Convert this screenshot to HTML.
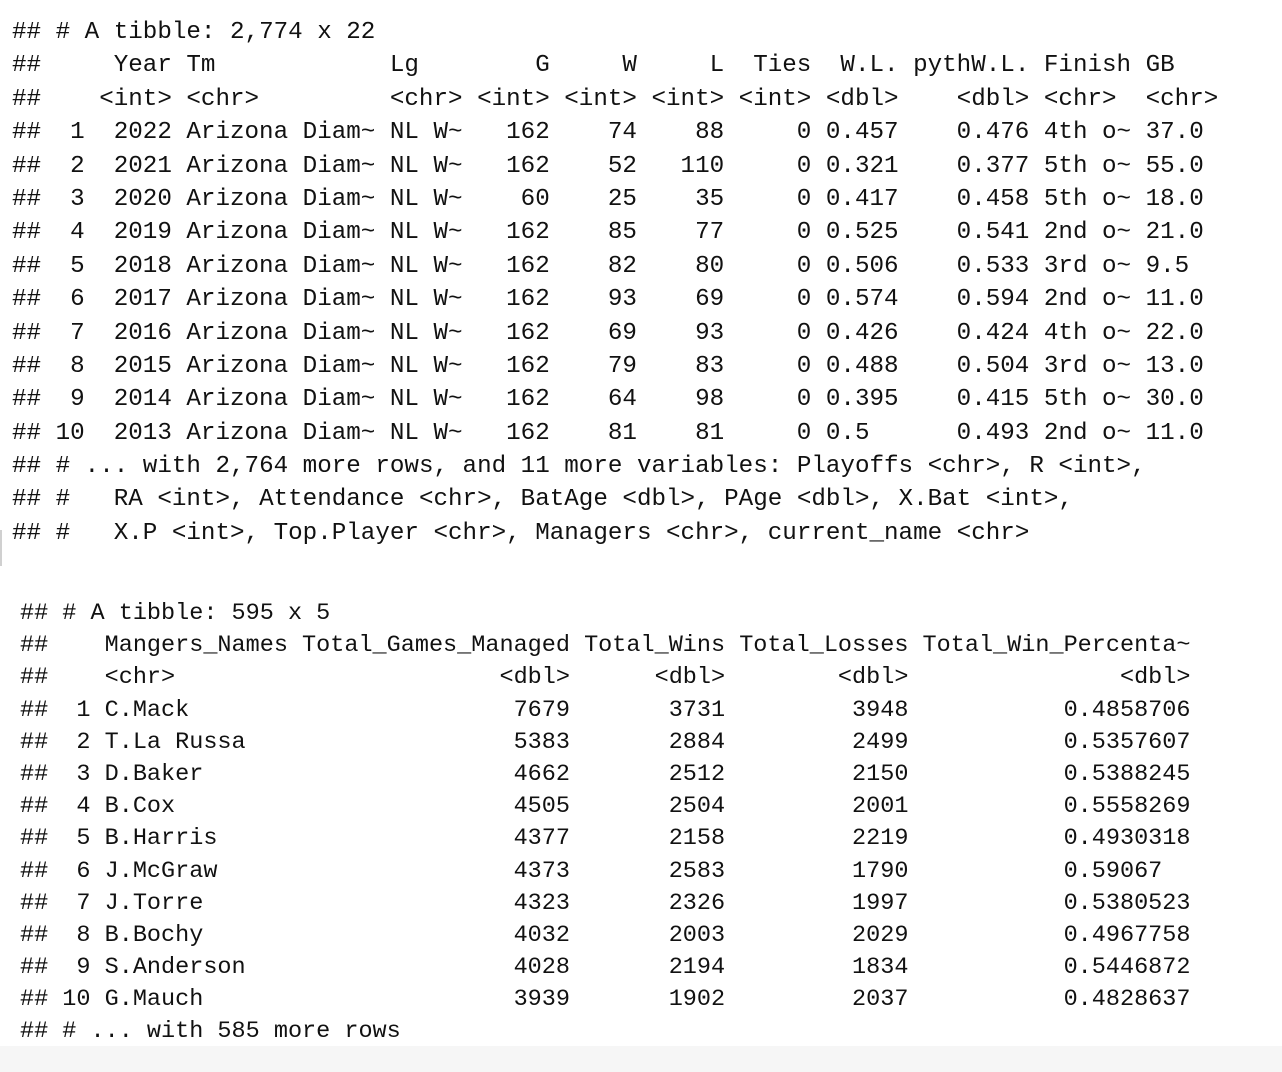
<!DOCTYPE html>
<html><head><meta charset="utf-8"><style>
html,body{margin:0;padding:0;background:#fff;width:1282px;height:1072px;overflow:hidden;position:relative}
.blk{position:absolute;font-family:"Liberation Mono",monospace;color:#111;font-weight:normal}
.b1{left:12px;top:16px;font-size:24.23px}
.b2{left:20px;top:598px;font-size:23.5px}
.ln{position:relative;height:33.4px;line-height:33.4px;white-space:pre}
.b2 .ln{height:32.2px;line-height:32.2px}
.ln span{position:absolute;top:0}
.r{transform:translateX(-100%)}
.cursor{position:absolute;left:0;top:530px;width:2px;height:36px;background:#d0d0d0}
.band{position:absolute;left:0;top:1046px;width:1282px;height:26px;background:#f6f6f6}
</style></head><body>
<div class="cursor"></div>
<div class="band"></div>
<div class="blk b1">
<div class="ln">## # A tibble: 2,774 x 22</div>
<div class="ln"><span style="left:0">##</span><span style="left:7ch">Year</span><span style="left:12ch">Tm</span><span style="left:26ch">Lg</span><span class="r" style="left:37ch">G</span><span class="r" style="left:43ch">W</span><span class="r" style="left:49ch">L</span><span class="r" style="left:55ch">Ties</span><span class="r" style="left:61ch">W.L.</span><span style="left:62ch">pythW.L.</span><span style="left:71ch">Finish</span><span style="left:78ch">GB</span></div>
<div class="ln"><span style="left:0">##</span><span style="left:6ch">&lt;int&gt;</span><span style="left:12ch">&lt;chr&gt;</span><span style="left:26ch">&lt;chr&gt;</span><span style="left:32ch">&lt;int&gt;</span><span style="left:38ch">&lt;int&gt;</span><span style="left:44ch">&lt;int&gt;</span><span style="left:50ch">&lt;int&gt;</span><span style="left:56ch">&lt;dbl&gt;</span><span style="left:65ch">&lt;dbl&gt;</span><span style="left:71ch">&lt;chr&gt;</span><span style="left:78ch">&lt;chr&gt;</span></div>
<div class="ln"><span style="left:0">##</span><span class="r" style="left:5ch">1</span><span style="left:7ch">2022</span><span style="left:12ch">Arizona Diam~</span><span style="left:26ch">NL W~</span><span class="r" style="left:37ch">162</span><span class="r" style="left:43ch">74</span><span class="r" style="left:49ch">88</span><span class="r" style="left:55ch">0</span><span style="left:56ch">0.457</span><span class="r" style="left:70ch">0.476</span><span style="left:71ch">4th o~</span><span style="left:78ch">37.0</span></div>
<div class="ln"><span style="left:0">##</span><span class="r" style="left:5ch">2</span><span style="left:7ch">2021</span><span style="left:12ch">Arizona Diam~</span><span style="left:26ch">NL W~</span><span class="r" style="left:37ch">162</span><span class="r" style="left:43ch">52</span><span class="r" style="left:49ch">110</span><span class="r" style="left:55ch">0</span><span style="left:56ch">0.321</span><span class="r" style="left:70ch">0.377</span><span style="left:71ch">5th o~</span><span style="left:78ch">55.0</span></div>
<div class="ln"><span style="left:0">##</span><span class="r" style="left:5ch">3</span><span style="left:7ch">2020</span><span style="left:12ch">Arizona Diam~</span><span style="left:26ch">NL W~</span><span class="r" style="left:37ch">60</span><span class="r" style="left:43ch">25</span><span class="r" style="left:49ch">35</span><span class="r" style="left:55ch">0</span><span style="left:56ch">0.417</span><span class="r" style="left:70ch">0.458</span><span style="left:71ch">5th o~</span><span style="left:78ch">18.0</span></div>
<div class="ln"><span style="left:0">##</span><span class="r" style="left:5ch">4</span><span style="left:7ch">2019</span><span style="left:12ch">Arizona Diam~</span><span style="left:26ch">NL W~</span><span class="r" style="left:37ch">162</span><span class="r" style="left:43ch">85</span><span class="r" style="left:49ch">77</span><span class="r" style="left:55ch">0</span><span style="left:56ch">0.525</span><span class="r" style="left:70ch">0.541</span><span style="left:71ch">2nd o~</span><span style="left:78ch">21.0</span></div>
<div class="ln"><span style="left:0">##</span><span class="r" style="left:5ch">5</span><span style="left:7ch">2018</span><span style="left:12ch">Arizona Diam~</span><span style="left:26ch">NL W~</span><span class="r" style="left:37ch">162</span><span class="r" style="left:43ch">82</span><span class="r" style="left:49ch">80</span><span class="r" style="left:55ch">0</span><span style="left:56ch">0.506</span><span class="r" style="left:70ch">0.533</span><span style="left:71ch">3rd o~</span><span style="left:78ch">9.5</span></div>
<div class="ln"><span style="left:0">##</span><span class="r" style="left:5ch">6</span><span style="left:7ch">2017</span><span style="left:12ch">Arizona Diam~</span><span style="left:26ch">NL W~</span><span class="r" style="left:37ch">162</span><span class="r" style="left:43ch">93</span><span class="r" style="left:49ch">69</span><span class="r" style="left:55ch">0</span><span style="left:56ch">0.574</span><span class="r" style="left:70ch">0.594</span><span style="left:71ch">2nd o~</span><span style="left:78ch">11.0</span></div>
<div class="ln"><span style="left:0">##</span><span class="r" style="left:5ch">7</span><span style="left:7ch">2016</span><span style="left:12ch">Arizona Diam~</span><span style="left:26ch">NL W~</span><span class="r" style="left:37ch">162</span><span class="r" style="left:43ch">69</span><span class="r" style="left:49ch">93</span><span class="r" style="left:55ch">0</span><span style="left:56ch">0.426</span><span class="r" style="left:70ch">0.424</span><span style="left:71ch">4th o~</span><span style="left:78ch">22.0</span></div>
<div class="ln"><span style="left:0">##</span><span class="r" style="left:5ch">8</span><span style="left:7ch">2015</span><span style="left:12ch">Arizona Diam~</span><span style="left:26ch">NL W~</span><span class="r" style="left:37ch">162</span><span class="r" style="left:43ch">79</span><span class="r" style="left:49ch">83</span><span class="r" style="left:55ch">0</span><span style="left:56ch">0.488</span><span class="r" style="left:70ch">0.504</span><span style="left:71ch">3rd o~</span><span style="left:78ch">13.0</span></div>
<div class="ln"><span style="left:0">##</span><span class="r" style="left:5ch">9</span><span style="left:7ch">2014</span><span style="left:12ch">Arizona Diam~</span><span style="left:26ch">NL W~</span><span class="r" style="left:37ch">162</span><span class="r" style="left:43ch">64</span><span class="r" style="left:49ch">98</span><span class="r" style="left:55ch">0</span><span style="left:56ch">0.395</span><span class="r" style="left:70ch">0.415</span><span style="left:71ch">5th o~</span><span style="left:78ch">30.0</span></div>
<div class="ln"><span style="left:0">##</span><span class="r" style="left:5ch">10</span><span style="left:7ch">2013</span><span style="left:12ch">Arizona Diam~</span><span style="left:26ch">NL W~</span><span class="r" style="left:37ch">162</span><span class="r" style="left:43ch">81</span><span class="r" style="left:49ch">81</span><span class="r" style="left:55ch">0</span><span style="left:56ch">0.5</span><span class="r" style="left:70ch">0.493</span><span style="left:71ch">2nd o~</span><span style="left:78ch">11.0</span></div>
<div class="ln">## # ... with 2,764 more rows, and 11 more variables: Playoffs &lt;chr&gt;, R &lt;int&gt;,</div>
<div class="ln">## #   RA &lt;int&gt;, Attendance &lt;chr&gt;, BatAge &lt;dbl&gt;, PAge &lt;dbl&gt;, X.Bat &lt;int&gt;,</div>
<div class="ln">## #   X.P &lt;int&gt;, Top.Player &lt;chr&gt;, Managers &lt;chr&gt;, current_name &lt;chr&gt;</div>
</div>

<div class="blk b2">
<div class="ln">## # A tibble: 595 x 5</div>
<div class="ln"><span style="left:0">##</span><span style="left:6ch">Mangers_Names</span><span style="left:20ch">Total_Games_Managed</span><span style="left:40ch">Total_Wins</span><span style="left:51ch">Total_Losses</span><span style="left:64ch">Total_Win_Percenta~</span></div>
<div class="ln"><span style="left:0">##</span><span style="left:6ch">&lt;chr&gt;</span><span class="r" style="left:39ch">&lt;dbl&gt;</span><span class="r" style="left:50ch">&lt;dbl&gt;</span><span class="r" style="left:63ch">&lt;dbl&gt;</span><span class="r" style="left:83ch">&lt;dbl&gt;</span></div>
<div class="ln"><span style="left:0">##</span><span class="r" style="left:5ch">1</span><span style="left:6ch">C.Mack</span><span class="r" style="left:39ch">7679</span><span class="r" style="left:50ch">3731</span><span class="r" style="left:63ch">3948</span><span style="left:74ch">0.4858706</span></div>
<div class="ln"><span style="left:0">##</span><span class="r" style="left:5ch">2</span><span style="left:6ch">T.La Russa</span><span class="r" style="left:39ch">5383</span><span class="r" style="left:50ch">2884</span><span class="r" style="left:63ch">2499</span><span style="left:74ch">0.5357607</span></div>
<div class="ln"><span style="left:0">##</span><span class="r" style="left:5ch">3</span><span style="left:6ch">D.Baker</span><span class="r" style="left:39ch">4662</span><span class="r" style="left:50ch">2512</span><span class="r" style="left:63ch">2150</span><span style="left:74ch">0.5388245</span></div>
<div class="ln"><span style="left:0">##</span><span class="r" style="left:5ch">4</span><span style="left:6ch">B.Cox</span><span class="r" style="left:39ch">4505</span><span class="r" style="left:50ch">2504</span><span class="r" style="left:63ch">2001</span><span style="left:74ch">0.5558269</span></div>
<div class="ln"><span style="left:0">##</span><span class="r" style="left:5ch">5</span><span style="left:6ch">B.Harris</span><span class="r" style="left:39ch">4377</span><span class="r" style="left:50ch">2158</span><span class="r" style="left:63ch">2219</span><span style="left:74ch">0.4930318</span></div>
<div class="ln"><span style="left:0">##</span><span class="r" style="left:5ch">6</span><span style="left:6ch">J.McGraw</span><span class="r" style="left:39ch">4373</span><span class="r" style="left:50ch">2583</span><span class="r" style="left:63ch">1790</span><span style="left:74ch">0.59067</span></div>
<div class="ln"><span style="left:0">##</span><span class="r" style="left:5ch">7</span><span style="left:6ch">J.Torre</span><span class="r" style="left:39ch">4323</span><span class="r" style="left:50ch">2326</span><span class="r" style="left:63ch">1997</span><span style="left:74ch">0.5380523</span></div>
<div class="ln"><span style="left:0">##</span><span class="r" style="left:5ch">8</span><span style="left:6ch">B.Bochy</span><span class="r" style="left:39ch">4032</span><span class="r" style="left:50ch">2003</span><span class="r" style="left:63ch">2029</span><span style="left:74ch">0.4967758</span></div>
<div class="ln"><span style="left:0">##</span><span class="r" style="left:5ch">9</span><span style="left:6ch">S.Anderson</span><span class="r" style="left:39ch">4028</span><span class="r" style="left:50ch">2194</span><span class="r" style="left:63ch">1834</span><span style="left:74ch">0.5446872</span></div>
<div class="ln"><span style="left:0">##</span><span class="r" style="left:5ch">10</span><span style="left:6ch">G.Mauch</span><span class="r" style="left:39ch">3939</span><span class="r" style="left:50ch">1902</span><span class="r" style="left:63ch">2037</span><span style="left:74ch">0.4828637</span></div>
<div class="ln">## # ... with 585 more rows</div>
</div>
</body></html>
